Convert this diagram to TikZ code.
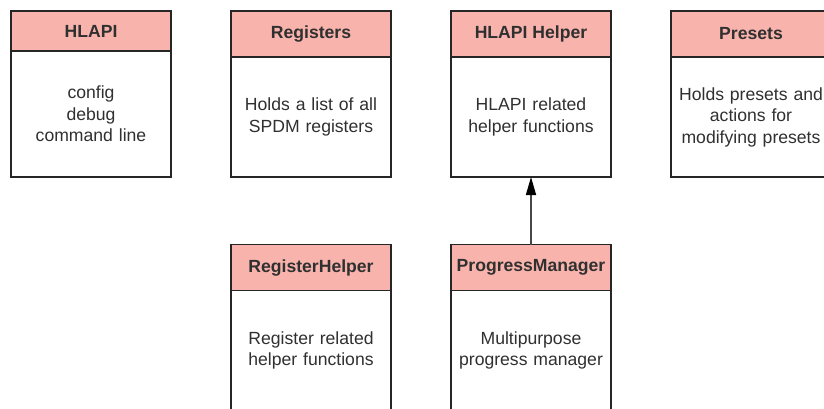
\documentclass[tikz,border=0pt]{standalone}
\usepackage{fontspec}
\setmainfont{Liberation Sans}
\usepackage{tikz}
\usetikzlibrary{positioning, arrows.meta}
\usepackage{xcolor}
\definecolor{headpink}{RGB}{248,180,172}
\definecolor{edgegray}{RGB}{38,38,38}
\definecolor{textgray}{RGB}{48,48,48}

\begin{document}
\begin{tikzpicture}[x=1pt, y=-1pt]
    % Define styles
    \tikzstyle{header} = [rectangle, draw=edgegray, line width=1.6pt, fill=headpink, minimum width=160pt, minimum height=46pt, inner sep=0pt, outer sep=0pt, text=textgray, font=\fontsize{17.6}{21.5}\selectfont\bfseries, anchor=north]
    \tikzstyle{body} = [rectangle, draw=edgegray, line width=1.6pt, fill=white, minimum width=160pt, minimum height=120pt, text width=158pt, align=center, inner sep=0pt, outer sep=0pt, text=textgray, font=\fontsize{17.6}{21.5}\selectfont]
    \tikzstyle{arrow} = [line width=1.5pt, draw=black!72, -{Triangle[length=18pt, width=10pt, color=black]}]

    \useasboundingbox (0,0) rectangle (824,409);

    % Top row
    \node [header, minimum height=40pt] (hlapi) at (91,11) {HLAPI};
    \node [body, minimum height=126pt, below=0pt of hlapi] (hlapiB) {config\\debug\\command line};

    \node [header] (registers) at (311,11) {Registers};
    \node [body, below=0pt of registers] (registersB) {Holds a list of all\\SPDM registers};

    \node [header, right=60pt of registers] (helper) {HLAPI Helper};
    \node [body, below=0pt of helper] (helperB) {HLAPI related\\helper functions};

    \node [header, right=60pt of helper] (presets) {Presets};
    \node [body, below=0pt of presets] (presetsB) {Holds presets and\\actions for\\modifying presets};

    % Bottom row
    \node [header, below=67.5pt of registersB] (reghelper) {RegisterHelper};
    \node [body, below=0pt of reghelper] (reghelperB) {Register related\\helper functions};

    \node [header, below=67.5pt of helperB] (progress) {ProgressManager};
    \node [body, below=0pt of progress] (progressB) {Multipurpose\\progress manager};

    % Arrows
    \draw [arrow] (progress) -- (helperB);
\end{tikzpicture}
\end{document}
